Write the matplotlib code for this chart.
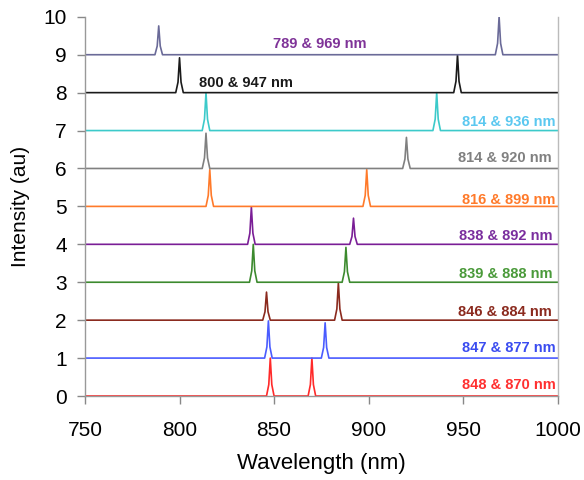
import matplotlib
matplotlib.use("Agg")
import matplotlib.pyplot as plt

plt.rcParams['font.family'] = ['Liberation Sans', 'DejaVu Sans']

# Each spectrum: baseline offset, two peak wavelengths and peak heights (above baseline)
offsets = [0, 1, 2, 3, 4, 5, 6, 7, 8, 9]
peak1 = [848, 847, 846, 839, 838, 816, 814, 814, 800, 789]
peak2 = [870, 877, 884, 888, 892, 899, 920, 936, 947, 969]
height1 = [1.0, 0.98, 0.74, 1.0, 0.98, 0.97, 0.93, 1.0, 0.92, 0.76]
height2 = [1.0, 0.93, 0.98, 0.92, 0.69, 0.97, 0.82, 1.0, 1.0, 1.0]
line_colors = ['#FF2A2A', '#4A5CFF', '#8B2A1E', '#3C8A2E', '#7A1E96',
               '#FF7A2A', '#808080', '#3CCACA', '#1A1A1A', '#6A6A98']
label_colors = ['#FF3030', '#3A4CF0', '#8B2A1E', '#4A9A3A', '#7A2E9E',
                '#FF7A2A', '#808080', '#5BC8F0', '#1A1A1A', '#7F3398']
labels = ['848 & 870 nm', '847 & 877 nm', '846 & 884 nm', '839 & 888 nm',
          '838 & 892 nm', '816 & 899 nm', '814 & 920 nm', '814 & 936 nm',
          '800 & 947 nm', '789 & 969 nm']
label_x = [999, 999, 997, 997, 997, 999, 997, 999, 835, 874]
label_y = [0.29, 1.27, 2.22, 3.22, 4.22, 5.17, 6.28, 7.23, 8.26, 9.29]
label_ha = ['right'] * 8 + ['center', 'center']

# peak shape profile (offset from centre in nm, fraction of peak height)
shape_dx = [-2.0, -0.8, 0.0, 0.8, 2.0]
shape_fr = [0.0, 0.3, 1.0, 0.3, 0.0]

fig = plt.figure(figsize=(5.84, 4.8), dpi=100)
ax = fig.add_axes([0.1455, 0.175, 0.8095, 0.79])

for i in range(len(offsets)):
    xs = [750.0]
    ys = [offsets[i]]
    for c, h in sorted([(peak1[i], height1[i]), (peak2[i], height2[i])]):
        for dx, fr in zip(shape_dx, shape_fr):
            xs.append(c + dx)
            ys.append(offsets[i] + fr * h)
    xs.append(1000.0)
    ys.append(offsets[i])
    ax.plot(xs, ys, color=line_colors[i], lw=1.2)
    ax.text(label_x[i], label_y[i], labels[i], color=label_colors[i],
            fontsize=10.5, fontweight='bold', ha=label_ha[i], va='center')

ax.set_xlim(750, 1000)
ax.set_ylim(0, 10)
ax.set_xticks([750, 800, 850, 900, 950, 1000])
ax.set_yticks(range(0, 11))
ax.tick_params(axis='both', labelsize=15, color='#888888', length=6, width=1)
ax.tick_params(axis='x', pad=12)
ax.tick_params(axis='y', pad=7)
ax.set_xlabel('Wavelength (nm)', fontsize=16, labelpad=9)
ax.set_ylabel('Intensity (au)', fontsize=15, labelpad=10)
ax.spines['top'].set_visible(False)
for s in ['left', 'bottom', 'right']:
    ax.spines[s].set_color('#999999')
    ax.spines[s].set_linewidth(1)
ax.spines['right'].set_color('#BBBBBB')

fig.savefig('out.png', dpi=100)
